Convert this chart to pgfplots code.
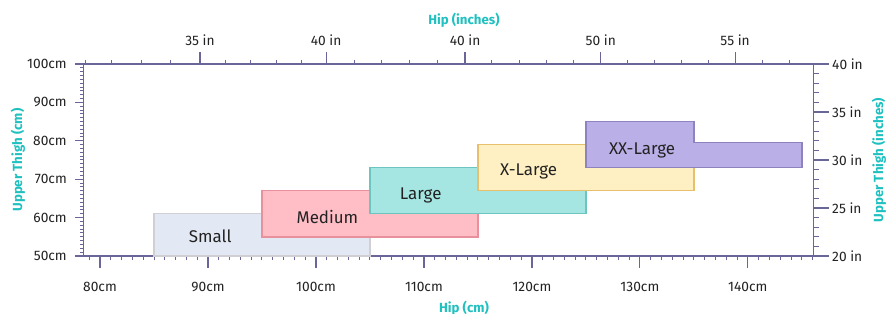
\documentclass[border=0pt]{standalone}
\usepackage{pgfplots}
\pgfplotsset{compat=1.18}
\usepackage{fontspec}
\setmainfont{Fira Sans}
\definecolor{axc}{HTML}{6A6699}
\definecolor{teal2}{HTML}{1FC0C0}
\definecolor{txt}{HTML}{222222}
\definecolor{sF}{HTML}{E3E9F4}\definecolor{sD}{HTML}{CFCFD4}
\definecolor{mF}{HTML}{FFBEC6}\definecolor{mD}{HTML}{E8909B}
\definecolor{lF}{HTML}{A5E6E3}\definecolor{lD}{HTML}{6CC5BF}
\definecolor{xF}{HTML}{FFF0C3}\definecolor{xD}{HTML}{E6C06C}
\definecolor{xxF}{HTML}{BBAFE7}\definecolor{xxD}{HTML}{8E82BF}
\tikzset{ttl/.style={font=\bfseries\fontsize{13.3}{15}\selectfont, text=teal2},
  bl/.style={font=\fontsize{17}{19}\selectfont, text=txt}}
\pgfplotsset{
  base/.style={
    scale only axis, width=730.4bp, height=192bp,
    at={(0,0)}, anchor=south west,
    xmin=78.45, xmax=146.1, ymin=50, ymax=100,
    axis line style={color=axc, line width=1.3bp},
    tick style={color=axc, line width=1bp},
    major tick style={line width=1.2bp},
    tick align=outside,
    ticklabel style={font=\fontsize{13.8}{15}\selectfont, text=txt},
    clip=false,
  },
}
\begin{document}
\begin{tikzpicture}
\useasboundingbox (-83.3bp,-58bp) rectangle (803.7bp,256bp);
% bottom axis with data
\begin{axis}[base,
  axis x line*=bottom, axis y line=none,
  xtick={80,90,...,140},
  xticklabels={80cm,90cm,100cm,110cm,120cm,130cm,140cm},
  xticklabel style={yshift=-11bp},
  minor xtick={79,80,...,146},
  major tick length=12bp, minor tick length=4bp,
  xlabel={Hip (cm)},
  xlabel style={at={(rel axis cs:0.5212,-0.2708)}, anchor=center, ttl},
]
\addplot[fill=sF, draw=sD, line width=1.4bp] coordinates {(85,50) (85,61) (105,61) (105,50)} --cycle;
\addplot[fill=mF, draw=mD, line width=1.4bp] coordinates {(95,55) (95,67) (115,67) (115,55)} --cycle;
\addplot[fill=lF, draw=lD, line width=1.4bp] coordinates {(105,61) (105,73) (125,73) (125,61)} --cycle;
\addplot[fill=xF, draw=xD, line width=1.4bp] coordinates {(115,67) (115,79) (135,79) (135,67)} --cycle;
\addplot[fill=xxF, draw=xxD, line width=1.4bp] coordinates {(125,73) (125,85) (135,85) (135,79.5) (145,79.5) (145,73)} --cycle;
\node[bl] at (axis cs:90.2,55.1) {Small};
\node[bl] at (axis cs:101.06,60.2) {Medium};
\node[bl] at (axis cs:109.7,65.8) {Large};
\node[bl] at (axis cs:119.7,71.9) {X-Large};
\node[bl] at (axis cs:130.2,77.6) {XX-Large};
\end{axis}
% left axis
\begin{axis}[base,
  axis y line*=left, axis x line=none,
  ytick={50,60,...,100},
  yticklabels={50cm,60cm,70cm,80cm,90cm,100cm},
  yticklabel style={xshift=-5bp},
  minor ytick={51,52,...,99},
  major tick length=8bp, minor tick length=3bp,
  ylabel={Upper Thigh (cm)},
  ylabel style={at={(rel axis cs:-0.0894,0.5)}, anchor=center, ttl},
]
\end{axis}
% top axis
\begin{axis}[base,
  axis x line*=top, axis y line=none,
  xtick={89.26,100.94,113.81,126.38,138.82},
  xticklabels={35 in,40 in,40 in,50 in,55 in},
  xticklabel style={yshift=3bp},
  minor xtick={78.70,81.08,83.83,86.55,91.64,93.92,96.30,98.62,103.53,106.10,108.65,111.25,116.29,118.81,121.32,123.84,128.85,131.35,133.85,136.35,141.35,143.85},
  major tick length=12bp, minor tick length=4bp,
  xlabel={Hip (inches)},
  xlabel style={at={(rel axis cs:0.5212,1.2255)}, anchor=center, ttl},
]
\end{axis}
% right axis
\begin{axis}[base,
  ymin=20, ymax=40,
  axis y line*=right, axis x line=none,
  ytick={20,25,...,40},
  yticklabels={20 in,25 in,30 in,35 in,40 in},
  minor ytick={21,22,...,39},
  major tick length=15bp, minor tick length=5.5bp,
  ylabel={Upper Thigh (inches)},
  ylabel style={at={(rel axis cs:1.0894,0.5)}, anchor=center, ttl},
]
\end{axis}
\end{tikzpicture}
\end{document}
